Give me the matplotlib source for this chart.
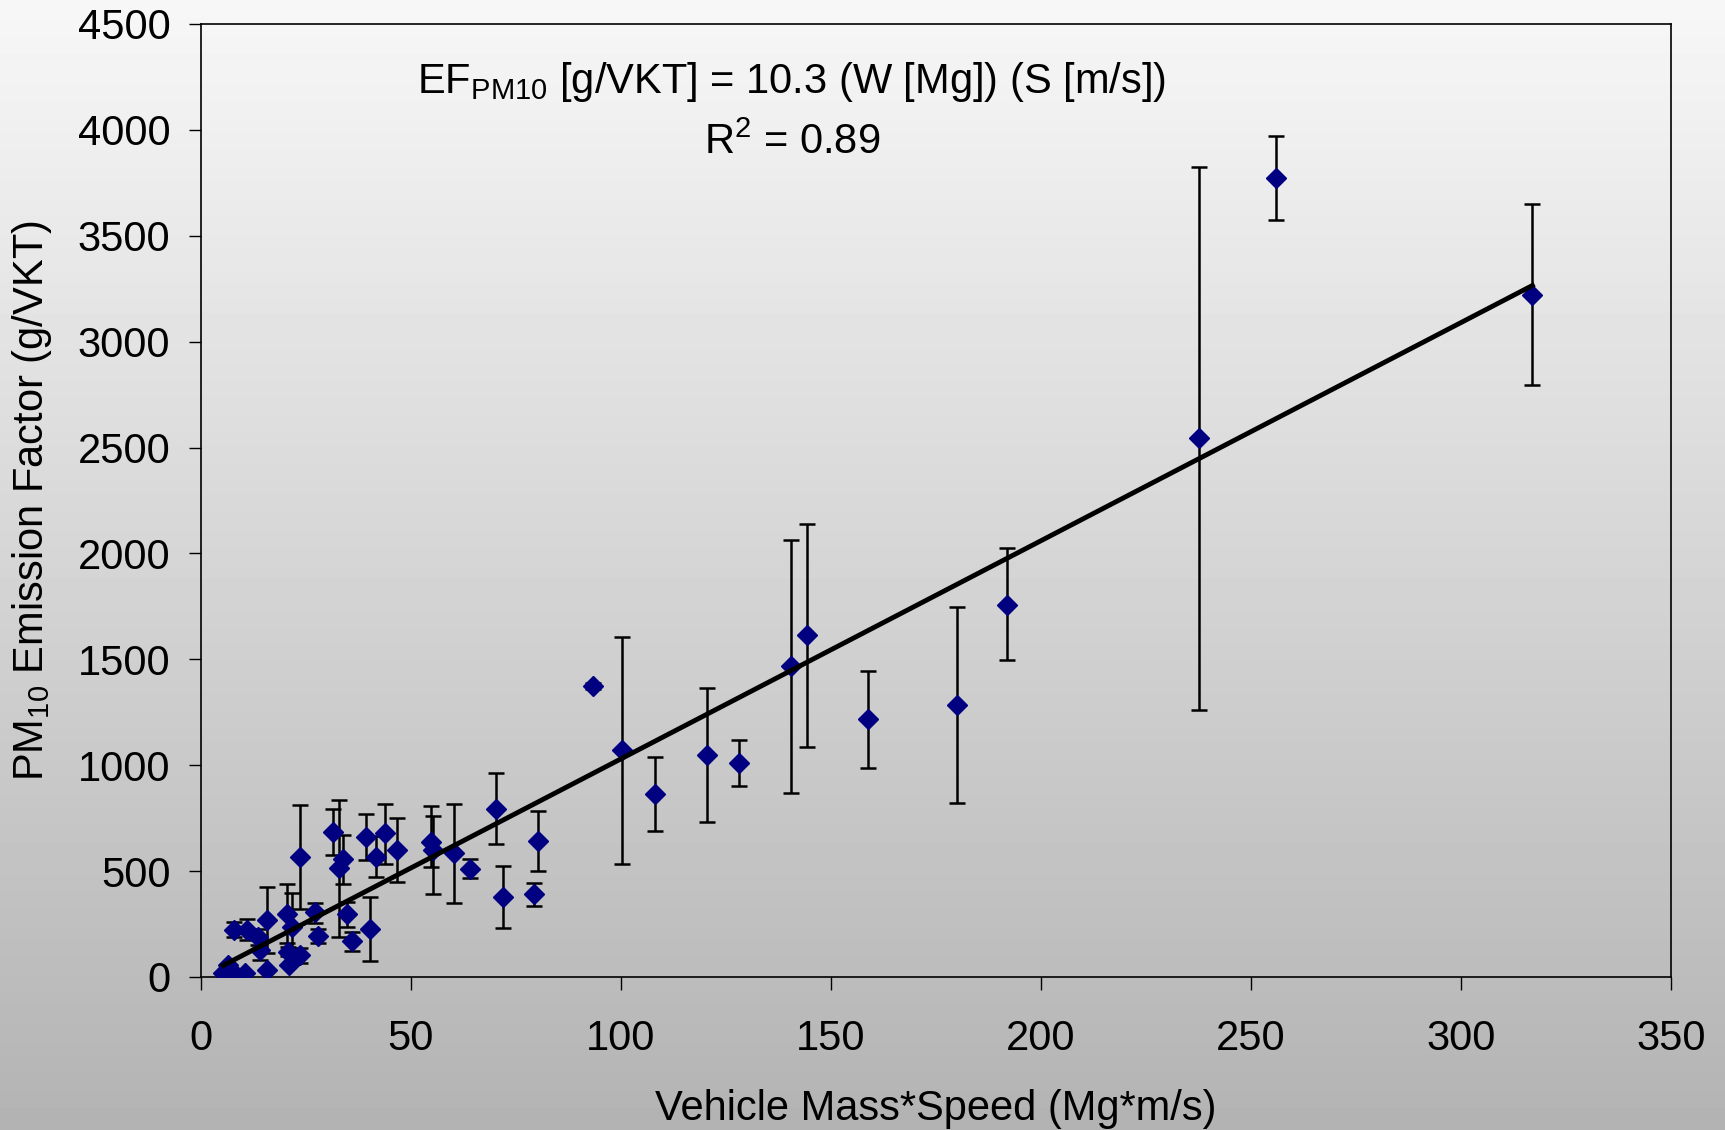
import numpy as np
import matplotlib
matplotlib.use("Agg")
import matplotlib.pyplot as plt

plt.rcParams["font.family"] = ["Liberation Sans", "DejaVu Sans"]
plt.rcParams["mathtext.fontset"] = "custom"
plt.rcParams["mathtext.rm"] = "Liberation Sans"
plt.rcParams["mathtext.it"] = "Liberation Sans:italic"

# vehicle mass*speed (Mg*m/s)
mass_speed = [5.3, 6.5, 7.9, 10.6, 7.9, 11.0, 13.6, 14.0, 15.8, 15.8,
              20.4, 21.6, 20.8, 21.0, 23.6, 23.6, 27.1, 27.8, 31.5, 32.9,
              33.9, 34.7, 36.0, 39.3, 40.2, 41.7, 43.8, 46.7, 54.7, 55.3,
              60.2, 64.0, 70.2, 72.0, 79.3, 80.3, 93.4, 100.3, 108.1, 120.5,
              128.1, 140.5, 144.2, 158.8, 180.0, 192.0, 237.6, 256.0, 317.0]
# PM10 emission factor (g/VKT)
emission = [20, 57, 17, 17, 222, 222, 187, 127, 269, 33,
            297, 238, 120, 57, 104, 565, 308, 194, 683, 513,
            556, 296, 170, 663, 227, 568, 679, 600, 639, 600,
            584, 509, 792, 376, 391, 644, 1375, 1072, 863, 1049,
            1009, 1469, 1617, 1217, 1285, 1757, 2547, 3773, 3222]
# error bar ends
err_low = [20, 57, 17, 17, 190, 175, 151, 80, 112, 33,
           159, 100, 100, 57, 68, 320, 254, 159, 575, 190,
           439, 238, 124, 553, 76, 471, 532, 450, 518, 391,
           351, 466, 627, 230, 335, 502, 1362, 534, 688, 731,
           902, 868, 1088, 988, 822, 1497, 1263, 3576, 2796]
err_high = [20, 57, 17, 17, 261, 272, 225, 175, 424, 33,
            438, 398, 140, 57, 138, 812, 348, 225, 792, 835,
            671, 356, 214, 770, 379, 666, 817, 752, 808, 762,
            816, 556, 963, 524, 445, 786, 1388, 1606, 1038, 1364,
            1120, 2064, 2141, 1445, 1748, 2027, 3825, 3971, 3648]

slope = 10.3
r_squared = 0.89


def create_graph():
    x = np.array(mass_speed)
    y = np.array(emission)
    yerr = [y - np.array(err_low), np.array(err_high) - y]

    fig = plt.figure(figsize=(17.25, 11.3), dpi=100)

    # grey gradient background
    bg = fig.add_axes([0, 0, 1, 1], zorder=-10)
    grad = np.linspace(247, 179, 256).reshape(-1, 1) / 255.0
    bg.imshow(grad, aspect="auto", cmap="gray", vmin=0, vmax=1,
              extent=[0, 1, 0, 1])
    bg.axis("off")

    ax = fig.add_axes([0.1165, 0.1354, 0.8522, 0.8434])
    ax.set_facecolor("none")

    ax.errorbar(x, y, yerr=yerr, fmt="none", ecolor="black",
                elinewidth=1.8, capsize=5.5, capthick=1.8, zorder=2)
    ax.plot(x, y, "D", color="#000080", markersize=10, zorder=3)

    fit_x = np.array([x.min(), x.max()])
    ax.plot(fit_x, slope * fit_x, color="black", linewidth=3.5, zorder=4)

    ax.set_xlim(0, 350)
    ax.set_ylim(0, 4500)
    ax.set_xticks(range(0, 351, 50))
    ax.set_yticks(range(0, 4501, 500))
    ax.tick_params(direction="out", length=9, width=1, labelsize=30,
                   colors="black")
    ax.tick_params(axis="x", pad=21)
    ax.tick_params(axis="y", pad=13)
    for s in ax.spines.values():
        s.set_linewidth(1.2)
        s.set_color("black")

    ax.set_xlabel("Vehicle Mass*Speed (Mg*m/s)", fontsize=30, labelpad=22)
    ax.set_ylabel(r"PM$_{\mathrm{10}}$ Emission Factor (g/VKT)", fontsize=30,
                  labelpad=17)

    ax.text(140.7, 4225,
            r"EF$_{\mathrm{PM10}}$ [g/VKT] = %.1f (W [Mg]) (S [m/s])" % slope,
            fontsize=30, ha="center", va="center")
    ax.text(140.7, 3940, r"R$^{\mathrm{2}}$ = %.2f" % r_squared,
            fontsize=30, ha="center", va="center")

    fig.savefig("out.png", dpi=100)


if __name__ == "__main__":
    create_graph()
